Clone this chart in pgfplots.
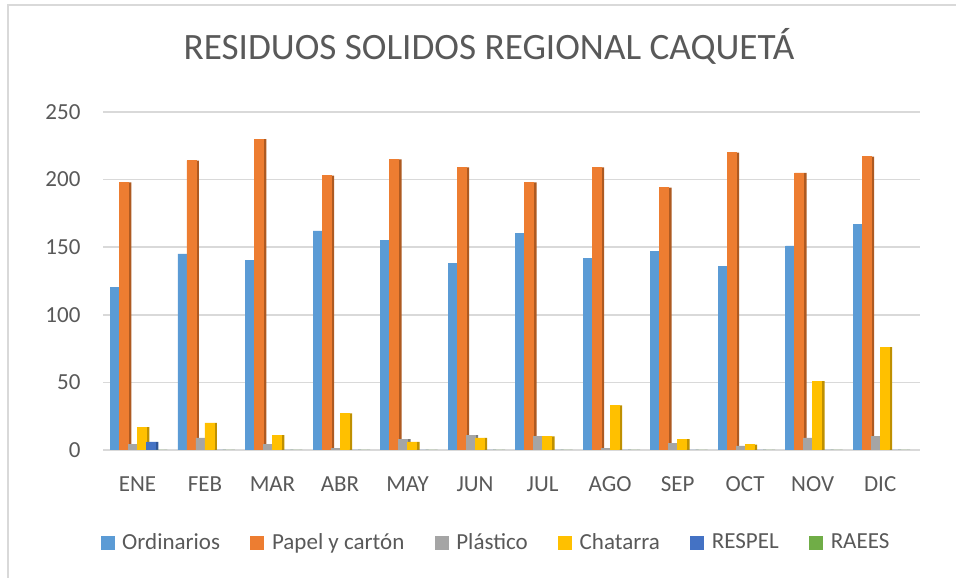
\documentclass[border=0pt]{standalone}
\usepackage{pgfplots}
\pgfplotsset{compat=1.18}
\usepackage{fontspec}
\setmainfont{Carlito}
\definecolor{txt}{HTML}{595959}
\definecolor{gridc}{HTML}{D9D9D9}
\definecolor{cOrd}{HTML}{5B9BD5}
\definecolor{cPap}{HTML}{ED7D31}
\definecolor{cPla}{HTML}{A5A5A5}
\definecolor{cCha}{HTML}{FFC000}
\definecolor{cRes}{HTML}{4472C4}
\definecolor{cRae}{HTML}{70AD47}
\definecolor{sOrd}{HTML}{41719C}
\definecolor{sPap}{HTML}{AE5A21}
\definecolor{sPla}{HTML}{7C7C7C}
\definecolor{sCha}{HTML}{BF9000}
\definecolor{sRes}{HTML}{2F5597}
\definecolor{sRae}{HTML}{507E32}
\begin{document}
\begin{tikzpicture}
\useasboundingbox (0pt,0pt) rectangle (478pt,288.5pt);
\draw[gridc, line width=0.8pt] (4pt,-5pt) -- (4pt,286pt) -- (490pt,286pt);
\node[font=\fontsize{18.6}{22}\selectfont, text=txt, anchor=base] at (244.5pt,258.5pt) {RESIDUOS SOLIDOS REGIONAL CAQUETÁ};
\begin{axis}[
  at={(51.5pt,63.5pt)}, anchor=south west,
  scale only axis, width=408.5pt, height=169pt,
  xmin=-0.51, xmax=11.59, ymin=0, ymax=250,
  axis line style={draw=none},
  tick style={draw=none},
  ytick={0,50,100,150,200,250},
  ymajorgrids=true, xmajorgrids=false,
  major grid style={draw=gridc, line width=0.8pt},
  xtick={0,...,11},
  xticklabels={ENE,FEB,MAR,ABR,MAY,JUN,JUL,AGO,SEP,OCT,NOV,DIC},
  ticklabel style={font=\fontsize{11.5}{14}\selectfont, text=txt},
  xticklabel style={anchor=base, yshift=-20.5pt},
  yticklabel style={anchor=east, xshift=-12pt+\pgfkeysvalueof{/pgfplots/major tick length}},
  /pgf/number format/assume math mode=true,
  legend columns=6,
  legend style={at={(0.4798,-0.275)}, anchor=center, draw=none,
    font=\fontsize{11.5}{14}\selectfont, text=txt,
    nodes={inner xsep=0pt}, column sep=4pt,
    /tikz/every even column/.append style={column sep=15.2pt}},
  legend image code/.code={\fill[#1] (0pt,-3.25pt) rectangle (6.5pt,3.25pt);},
]
% side faces
\addplot[ybar, bar width=1.5pt, bar shift=-8.25pt, fill=sOrd, draw=none, forget plot] coordinates {(0,120) (1,145) (2,140) (3,162) (4,155) (5,138) (6,160) (7,142) (8,147) (9,136) (10,151) (11,167)};
\addplot[ybar, bar width=1.5pt, bar shift=-3.75pt, fill=sPap, draw=none, forget plot] coordinates {(0,198) (1,214) (2,230) (3,203) (4,215) (5,209) (6,198) (7,209) (8,194) (9,220) (10,205) (11,217)};
\addplot[ybar, bar width=1.5pt, bar shift=0.75pt, fill=sPla, draw=none, forget plot] coordinates {(0,4) (1,9) (2,4) (3,1) (4,8) (5,11) (6,10) (7,1) (8,5) (9,3) (10,9) (11,10)};
\addplot[ybar, bar width=1.5pt, bar shift=5.25pt, fill=sCha, draw=none, forget plot] coordinates {(0,17) (1,20) (2,11) (3,27) (4,6) (5,9) (6,10) (7,33) (8,8) (9,4) (10,51) (11,76)};
\addplot[ybar, bar width=1.5pt, bar shift=9.75pt, fill=sRes, draw=none, forget plot] coordinates {(0,6) (1,0) (2,0) (3,0) (4,0) (5,0) (6,0) (7,0) (8,0) (9,0) (10,0) (11,0)};
\addplot[ybar, bar width=1.5pt, bar shift=14.25pt, fill=sRae, draw=none, forget plot] coordinates {(0,0) (1,0) (2,0) (3,0) (4,0) (5,0) (6,0) (7,0) (8,0) (9,0) (10,0) (11,0)};
% front faces
\addplot[ybar, bar width=4.5pt, bar shift=-11.25pt, fill=cOrd, draw=cOrd, line width=0.3pt] coordinates {(0,120) (1,145) (2,140) (3,162) (4,155) (5,138) (6,160) (7,142) (8,147) (9,136) (10,151) (11,167)};
\addlegendentry{Ordinarios}
\addplot[ybar, bar width=4.5pt, bar shift=-6.75pt, fill=cPap, draw=cPap, line width=0.3pt] coordinates {(0,198) (1,214) (2,230) (3,203) (4,215) (5,209) (6,198) (7,209) (8,194) (9,220) (10,205) (11,217)};
\addlegendentry{Papel y cartón}
\addplot[ybar, bar width=4.5pt, bar shift=-2.25pt, fill=cPla, draw=cPla, line width=0.3pt] coordinates {(0,4) (1,9) (2,4) (3,1) (4,8) (5,11) (6,10) (7,1) (8,5) (9,3) (10,9) (11,10)};
\addlegendentry{Plástico}
\addplot[ybar, bar width=4.5pt, bar shift=2.25pt, fill=cCha, draw=cCha, line width=0.3pt] coordinates {(0,17) (1,20) (2,11) (3,27) (4,6) (5,9) (6,10) (7,33) (8,8) (9,4) (10,51) (11,76)};
\addlegendentry{Chatarra}
\addplot[ybar, bar width=4.5pt, bar shift=6.75pt, fill=cRes, draw=cRes, line width=0.3pt] coordinates {(0,6) (1,0) (2,0) (3,0) (4,0) (5,0) (6,0) (7,0) (8,0) (9,0) (10,0) (11,0)};
\addlegendentry{RESPEL}
\addplot[ybar, bar width=4.5pt, bar shift=11.25pt, fill=cRae, draw=cRae, line width=0.3pt] coordinates {(0,0) (1,0) (2,0) (3,0) (4,0) (5,0) (6,0) (7,0) (8,0) (9,0) (10,0) (11,0)};
\addlegendentry{RAEES}
\end{axis}
\end{tikzpicture}
\end{document}
